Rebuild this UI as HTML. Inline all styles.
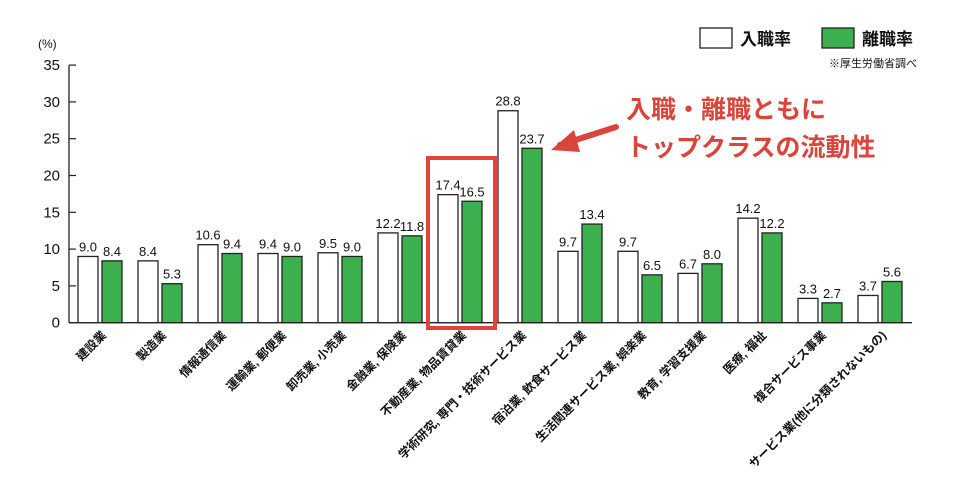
<!DOCTYPE html>
<html><head><meta charset="utf-8"><style>
body{margin:0;background:#fff;}
svg{display:block;font-family:"Liberation Sans","Noto Sans CJK JP",sans-serif;}
</style></head><body>
<svg id="c" width="960" height="480" viewBox="0 0 960 480">
<text x="38" y="48" font-size="12" fill="#111">(%)</text>
<g>
<rect x="700" y="28" width="32" height="20" fill="#fff" stroke="#222" stroke-width="1.3"/>
<text x="740" y="45" font-size="17" font-weight="bold" fill="#111">入職率</text>
<rect x="822" y="28" width="32" height="20" fill="#3cb04f" stroke="#222" stroke-width="1.3"/>
<text x="862" y="45" font-size="17" font-weight="bold" fill="#111">離職率</text>
<text x="917" y="67" font-size="11" fill="#111" text-anchor="end">※厚生労働省調べ</text>
</g>
<g>
<text x="626" y="118" font-size="25" font-weight="bold" fill="#d9453a">入職・離職ともに</text>
<text x="626" y="156" font-size="25" font-weight="bold" fill="#d9453a">トップクラスの流動性</text>
<line x1="616" y1="127" x2="560" y2="145" stroke="#d9453a" stroke-width="6" stroke-linecap="round"/>
<polygon points="551,150 574,130 580,152" fill="#d9453a"/>
</g>
<g id="axes"></g>
<g id="bars"></g>
<rect x="428" y="158" width="67" height="170" fill="none" stroke="#e0443a" stroke-width="4"/>
</svg>
<script>
const categories=["建設業","製造業","情報通信業","運輸業, 郵便業","卸売業, 小売業","金融業, 保険業","不動産業, 物品賃貸業","学術研究, 専門・技術サービス業","宿泊業, 飲食サービス業","生活関連サービス業, 娯楽業","教育, 学習支援業","医療, 福祉","複合サービス事業","サービス業(他に分類されないもの)"];
const hireRate=[9.0,8.4,10.6,9.4,9.5,12.2,17.4,28.8,9.7,9.7,6.7,14.2,3.3,3.7];
const separationRate=[8.4,5.3,9.4,9.0,9.0,11.8,16.5,23.7,13.4,6.5,8.0,12.2,2.7,5.6];
const yTicks=[0,5,10,15,20,25,30,35];

const NS="http://www.w3.org/2000/svg";
const y0=322.7, pxPerUnit=7.36;
const yScale=v=>y0-v*pxPerUnit;
const groupLeft=i=>78+i*60;
function mk(tag,attrs,parent){const e=document.createElementNS(NS,tag);for(const k in attrs)e.setAttribute(k,attrs[k]);parent.appendChild(e);return e;}
const axes=document.getElementById('axes'), bars=document.getElementById('bars');

const yAxis=mk('line',{x1:69,y1:65,x2:69,y2:y0,stroke:'#222','stroke-width':1.3},axes);


const xAxis=mk('line',{x1:69,y1:y0,x2:912,y2:y0,stroke:'#222','stroke-width':1.3},axes);


yTicks.forEach(t=>{
  const y=yScale(t);
  const tk=mk('line',{x1:69,y1:y,x2:76,y2:y,stroke:'#222','stroke-width':1.2},axes);
  
  
  const tl=mk('text',{x:60,y:y+5,'font-size':15,'text-anchor':'end',fill:'#111'},axes);
  tl.textContent=t;
  
  
});
categories.forEach((c,i)=>{
  const xl=groupLeft(i);
  const h=hireRate[i], s=separationRate[i];
  const b1=mk('rect',{x:xl,y:yScale(h),width:20,height:y0-yScale(h),fill:'#fff',stroke:'#222','stroke-width':1.3},bars);
  
  
  const b2=mk('rect',{x:xl+24,y:yScale(s),width:20,height:y0-yScale(s),fill:'#3cb04f',stroke:'#222','stroke-width':1.3},bars);
  
  
  const v1=mk('text',{x:xl+10,y:yScale(h)-5,'font-size':13,'text-anchor':'middle',fill:'#111'},bars);
  v1.textContent=h.toFixed(1);
  
  
  const v2=mk('text',{x:xl+34,y:yScale(s)-5,'font-size':13,'text-anchor':'middle',fill:'#111'},bars);
  v2.textContent=s.toFixed(1);
  
  
  const cx=xl+29, cy=336;
  const cl=mk('text',{x:cx,y:cy,'font-size':12,'font-weight':'bold','text-anchor':'end',fill:'#111',transform:`rotate(-45 ${cx} ${cy})`},bars);
  cl.textContent=c;
  
  
});
</script>
</body></html>
